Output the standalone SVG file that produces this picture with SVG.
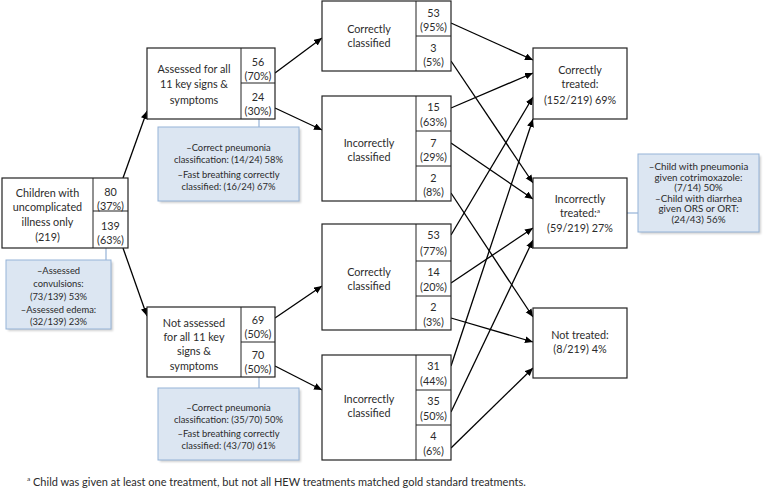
<svg xmlns="http://www.w3.org/2000/svg" width="763" height="490" viewBox="0 0 763 490">
<style>
text{font-family:Lato,"Liberation Sans",sans-serif;fill:#2b2b2b;text-anchor:middle}
.n{font-size:10.8px}
.c{font-size:9.4px}
.r{font-size:9.8px}
.f{font-size:11px;text-anchor:start}
.sup{font-size:6.5px;text-anchor:start}
.box{fill:#fff;stroke:#222;stroke-width:1.2}
.div{stroke:#222;stroke-width:1}
.co{fill:#dce6f2;stroke:#95b3d7;stroke-width:1}
.sh{fill:#000;opacity:0.18}
.cl{stroke:#95b3d7;stroke-width:1.2;fill:none}
.ar{stroke:#000;stroke-width:1.3;fill:none;marker-end:url(#ah)}
</style>
<defs>
<marker id="ah" markerUnits="userSpaceOnUse" markerWidth="10" markerHeight="8" refX="8" refY="3.5" orient="auto">
<path d="M0,0 L8,3.5 L0,7 z" fill="#000"/>
</marker>
<filter id="blur" x="-10%" y="-10%" width="120%" height="120%"><feGaussianBlur stdDeviation="1.2"/></filter>
</defs>

<g id="connectors">
<path class="ar" d="M123,178 L147,111"/>
<path class="ar" d="M123,248 L147,316"/>
<path class="ar" d="M275,73 L322,38"/>
<path class="ar" d="M275,108 L322,130"/>
<path class="ar" d="M275,318 L322,286"/>
<path class="ar" d="M275,366 L322,390"/>
<path class="ar" d="M451,23 L533,60"/>
<path class="ar" d="M451,61 L533,183"/>
<path class="ar" d="M451,108 L533,73"/>
<path class="ar" d="M451,143 L533,199"/>
<path class="ar" d="M451,193 L533,317"/>
<path class="ar" d="M451,235 L533,97"/>
<path class="ar" d="M451,283 L533,228"/>
<path class="ar" d="M451,318 L533,342"/>
<path class="ar" d="M451,366 L533,119"/>
<path class="ar" d="M451,412 L533,240"/>
<path class="ar" d="M451,448 L533,368"/>
<path class="cl" d="M106,248 V260"/>
<path class="cl" d="M259,119 V127"/>
<path class="cl" d="M259,377 V388"/>
<path class="cl" d="M627,213 H638"/>
</g>

<g id="root">
<rect class="box" x="2" y="178" width="126" height="70"/>
<path class="div" d="M93,178 V248 M93,211 H128"/>
<text class="n" x="47.5" y="197">Children with</text>
<text class="n" x="47.5" y="211">uncomplicated</text>
<text class="n" x="47.5" y="226">illness only</text>
<text class="n" x="47.5" y="241">(219)</text>
<text class="n" x="110.5" y="196">80</text>
<text class="n" x="110.5" y="210">(37%)</text>
<text class="n" x="110.5" y="230">139</text>
<text class="n" x="110.5" y="244">(63%)</text>
</g>

<g id="root-note">
<rect class="sh" x="8" y="262" width="105" height="69" filter="url(#blur)"/>
<rect class="co" x="6" y="260" width="105" height="69"/>
<text class="c" x="58.5" y="274">–Assessed</text>
<text class="c" x="58.5" y="287">convulsions:</text>
<text class="c" x="58.5" y="300">(73/139) 53%</text>
<text class="c" x="58.5" y="313">–Assessed edema:</text>
<text class="c" x="58.5" y="325">(32/139) 23%</text>
</g>

<g id="assessed">
<rect class="box" x="147" y="48" width="128" height="71"/>
<path class="div" d="M241,48 V119 M241,83 H275"/>
<text class="n" x="194" y="73">Assessed for all</text>
<text class="n" x="194" y="88">11 key signs &amp;</text>
<text class="n" x="194" y="104">symptoms</text>
<text class="n" x="258" y="66">56</text>
<text class="n" x="258" y="80">(70%)</text>
<text class="n" x="258" y="101">24</text>
<text class="n" x="258" y="115">(30%)</text>
</g>

<g id="assessed-note">
<rect class="sh" x="160" y="129" width="141" height="74" filter="url(#blur)"/>
<rect class="co" x="158" y="127" width="141" height="74"/>
<text class="c" x="228.5" y="151">–Correct pneumonia</text>
<text class="c" x="228.5" y="163">classification: (14/24) 58%</text>
<text class="c" x="228.5" y="178">–Fast breathing correctly</text>
<text class="c" x="228.5" y="190">classified: (16/24) 67%</text>
</g>

<g id="not-assessed">
<rect class="box" x="147" y="307" width="128" height="70"/>
<path class="div" d="M241,307 V377 M241,342 H275"/>
<text class="n" x="194" y="327">Not assessed</text>
<text class="n" x="194" y="341">for all 11 key</text>
<text class="n" x="194" y="355">signs &amp;</text>
<text class="n" x="194" y="370">symptoms</text>
<text class="n" x="258" y="324">69</text>
<text class="n" x="258" y="338">(50%)</text>
<text class="n" x="258" y="359">70</text>
<text class="n" x="258" y="373">(50%)</text>
</g>

<g id="not-assessed-note">
<rect class="sh" x="160" y="390" width="141" height="72" filter="url(#blur)"/>
<rect class="co" x="158" y="388" width="141" height="72"/>
<text class="c" x="228.5" y="411">–Correct pneumonia</text>
<text class="c" x="228.5" y="423">classification: (35/70) 50%</text>
<text class="c" x="228.5" y="437">–Fast breathing correctly</text>
<text class="c" x="228.5" y="449">classified: (43/70) 61%</text>
</g>

<g id="correct-1">
<rect class="box" x="322" y="1" width="129" height="70"/>
<path class="div" d="M416,1 V71 M416,36 H451"/>
<text class="n" x="369" y="33">Correctly</text>
<text class="n" x="369" y="47">classified</text>
<text class="n" x="433.5" y="17">53</text>
<text class="n" x="433.5" y="31">(95%)</text>
<text class="n" x="433.5" y="52">3</text>
<text class="n" x="433.5" y="66">(5%)</text>
</g>

<g id="incorrect-1">
<rect class="box" x="322" y="96" width="129" height="105"/>
<path class="div" d="M416,96 V201 M416,131 H451 M416,166 H451"/>
<text class="n" x="369" y="147">Incorrectly</text>
<text class="n" x="369" y="161">classified</text>
<text class="n" x="433.5" y="111">15</text>
<text class="n" x="433.5" y="126">(63%)</text>
<text class="n" x="433.5" y="147">7</text>
<text class="n" x="433.5" y="161">(29%)</text>
<text class="n" x="433.5" y="182">2</text>
<text class="n" x="433.5" y="196">(8%)</text>
</g>

<g id="correct-2">
<rect class="box" x="322" y="224" width="129" height="106"/>
<path class="div" d="M416,224 V330 M416,261 H451 M416,296 H451"/>
<text class="n" x="369" y="276">Correctly</text>
<text class="n" x="369" y="290">classified</text>
<text class="n" x="433.5" y="239">53</text>
<text class="n" x="433.5" y="255">(77%)</text>
<text class="n" x="433.5" y="276">14</text>
<text class="n" x="433.5" y="291">(20%)</text>
<text class="n" x="433.5" y="311">2</text>
<text class="n" x="433.5" y="326">(3%)</text>
</g>

<g id="incorrect-2">
<rect class="box" x="322" y="355" width="129" height="105"/>
<path class="div" d="M416,355 V460 M416,390 H451 M416,425 H451"/>
<text class="n" x="369" y="403">Incorrectly</text>
<text class="n" x="369" y="417">classified</text>
<text class="n" x="433.5" y="370">31</text>
<text class="n" x="433.5" y="385">(44%)</text>
<text class="n" x="433.5" y="405">35</text>
<text class="n" x="433.5" y="420">(50%)</text>
<text class="n" x="433.5" y="440">4</text>
<text class="n" x="433.5" y="455">(6%)</text>
</g>

<g id="correctly-treated">
<rect class="box" x="533" y="48" width="94" height="71"/>
<text class="n" x="580" y="74">Correctly</text>
<text class="n" x="580" y="88">treated:</text>
<text class="n" x="580" y="104">(152/219) 69%</text>
</g>

<g id="incorrectly-treated">
<rect class="box" x="533" y="178" width="94" height="70"/>
<text class="n" x="580" y="203">Incorrectly</text>
<text class="n" x="580" y="217">treated:<tspan font-size="6.5" dy="-4">a</tspan></text>
<text class="n" x="580" y="232">(59/219) 27%</text>
</g>

<g id="treated-note">
<rect class="sh" x="640" y="156" width="121" height="78" filter="url(#blur)"/>
<rect class="co" x="638" y="154" width="121" height="78"/>
<text class="r" x="698.5" y="170">–Child with pneumonia</text>
<text class="r" x="698.5" y="180.5">given cotrimoxazole:</text>
<text class="r" x="698.5" y="191">(7/14) 50%</text>
<text class="r" x="698.5" y="201.5">–Child with diarrhea</text>
<text class="r" x="698.5" y="212">given ORS or ORT:</text>
<text class="r" x="698.5" y="222.5">(24/43) 56%</text>
</g>

<g id="not-treated">
<rect class="box" x="533" y="308" width="94" height="70"/>
<text class="n" x="580" y="339">Not treated:</text>
<text class="n" x="580" y="353">(8/219) 4%</text>
</g>

<g id="footnote">
<text class="sup" x="27" y="481">a</text>
<text class="f" x="33" y="486">Child was given at least one treatment, but not all HEW treatments matched gold standard treatments.</text>
</g>
</svg>
